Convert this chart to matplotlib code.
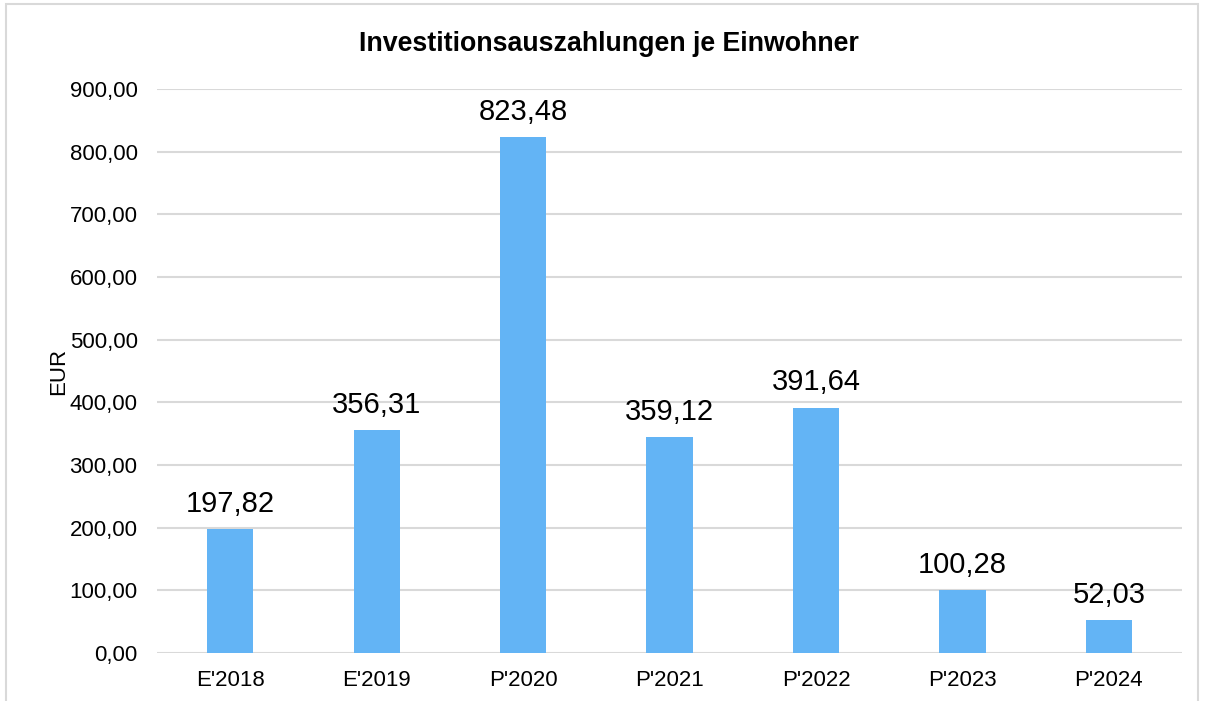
import matplotlib.pyplot as plt
from matplotlib.patches import Rectangle

# data
categories = ["E'2018", "E'2019", "P'2020", "P'2021", "P'2022", "P'2023", "P'2024"]
values = [197.82, 356.31, 823.48, 345.0, 391.64, 100.28, 52.03]
labels = ["197,82", "356,31", "823,48", "359,12", "391,64", "100,28", "52,03"]
yticks = [0, 100, 200, 300, 400, 500, 600, 700, 800, 900]

plt.rcParams['font.family'] = ['Liberation Sans', 'DejaVu Sans']

fig = plt.figure(figsize=(12.05, 7.01), dpi=100)
ax = fig.add_axes([0.1303, 0.0685, 0.8507, 0.8045])

# light grey frame round the chart
fig.patches.append(Rectangle((6 / 1205, -0.05), 1192 / 1205, 1 - 4 / 701 + 0.05,
                             transform=fig.transFigure, fill=False,
                             edgecolor='#D9D9D9', linewidth=1.5))

x = range(len(categories))
bars = ax.bar(x, values, width=0.315, color='#63B4F5', zorder=3)

for b, lab in zip(bars, labels):
    ax.annotate(lab, (b.get_x() + b.get_width() / 2, b.get_height()),
                xytext=(0, 8), textcoords='offset points',
                ha='center', va='bottom', fontsize=21)

ax.set_xlim(-0.5, len(categories) - 0.5)
ax.set_ylim(0, 900)
ax.set_yticks(yticks)
ax.set_yticklabels([f"{v:.2f}".replace('.', ',') for v in yticks])
ax.set_xticks(list(x))
ax.set_xticklabels(categories)
ax.tick_params(axis='both', length=0, labelsize=16)
ax.tick_params(axis='y', pad=14)
ax.tick_params(axis='x', pad=12)
ax.grid(axis='y', color='#D9D9D9', linewidth=1.5, zorder=0)
for s in ax.spines.values():
    s.set_visible(False)
ax.set_ylabel('EUR', fontsize=16, labelpad=0)

fig.text(0.505, 0.937, 'Investitionsauszahlungen je Einwohner', ha='center', va='center',
         fontsize=19.3, fontweight='bold')

fig.savefig('out.png', dpi=100)
